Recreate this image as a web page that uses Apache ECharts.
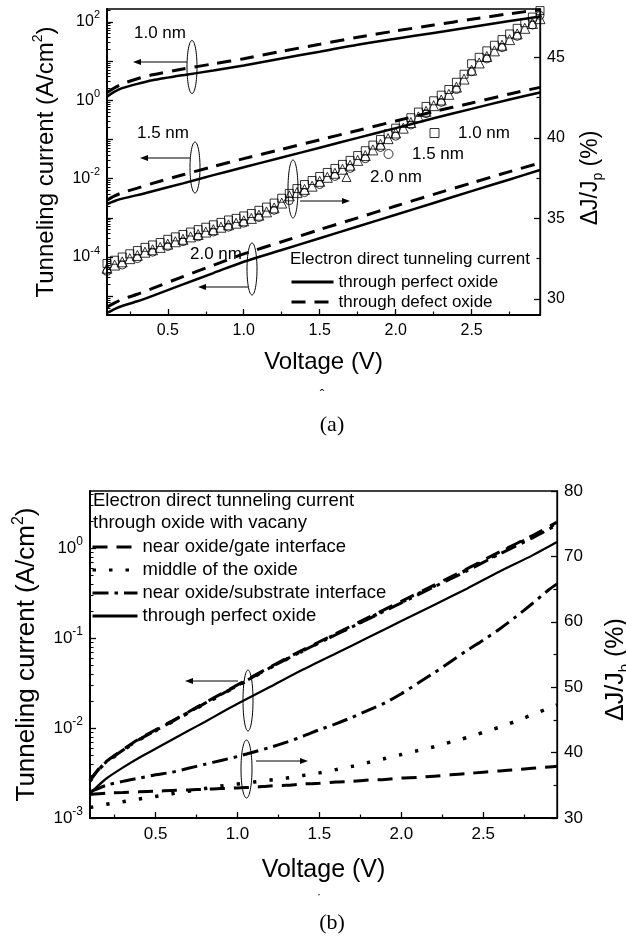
<!DOCTYPE html>
<html><head><meta charset="utf-8">
<script src="https://cdn.jsdelivr.net/npm/echarts@6/dist/echarts.min.js"></script>
<style>html,body{margin:0;padding:0;background:#fff}#c{width:626px;height:940px}</style>
</head><body><div id="c"></div>
<script>
// ---------- Panel (a) data ----------
const voltsA = [0.10,0.15,0.20,0.30,0.40,0.60,0.80,1.00,1.25,1.50,1.75,2.00,2.25,2.50,2.75,2.95];
const jPerfect10 = [1.23,1.66,2.04,2.63,3.24,4.37,5.75,7.76,11.7,17.4,26.3,37.2,52.5,74.1,105,138];
const jDefect10  = [1.58,2.09,2.63,3.55,4.47,6.31,8.51,11.5,17.8,26.9,40.7,58.9,83.2,117,162,204];
const jPerfect15 = [2.24e-3,2.69e-3,3.09e-3,3.80e-3,4.79e-3,7.59e-3,1.23e-2,1.95e-2,3.47e-2,6.17e-2,0.110,0.195,0.347,0.603,1.05,1.58];
const jDefect15  = [2.82e-3,3.63e-3,4.37e-3,5.75e-3,7.59e-3,1.26e-2,2.04e-2,3.24e-2,5.62e-2,9.77e-2,0.170,0.295,0.513,0.851,1.45,2.14];
const jPerfect20 = [3.72e-6,4.68e-6,5.62e-6,7.41e-6,1.02e-5,2.00e-5,3.89e-5,7.59e-5,1.51e-4,3.02e-4,6.03e-4,1.20e-3,2.40e-3,4.79e-3,9.55e-3,1.66e-2];
const jDefect20  = [5.25e-6,6.76e-6,8.32e-6,1.12e-5,1.58e-5,3.16e-5,6.17e-5,1.20e-4,2.45e-4,5.01e-4,1.00e-3,2.00e-3,3.98e-3,7.76e-3,1.51e-2,2.51e-2];

const voltsFine = [0.10,0.15,0.20,0.25,0.30,0.35,0.40,0.45,0.50,0.55,0.60,0.65,0.70,0.75,0.80,0.85,0.90,0.95,1.00,1.05,1.10,1.15,1.20,1.25,1.30,1.35,1.40,1.45,1.50,1.55,1.60,1.65,1.70,1.75,1.80,1.85,1.90,1.95,2.00,2.05,2.10,2.15,2.20,2.25,2.30,2.35,2.40,2.45,2.50,2.55,2.60,2.65,2.70,2.75,2.80,2.85,2.90,2.95];
const dj10nm = [32.2,32.4,32.6,32.8,33.0,33.2,33.35,33.5,33.7,33.85,34.0,34.15,34.3,34.45,34.6,34.75,34.9,35.0,35.15,35.3,35.5,35.7,35.95,36.25,36.55,36.85,37.1,37.35,37.6,37.85,38.1,38.35,38.6,38.9,39.2,39.55,39.9,40.25,40.6,40.9,41.25,41.6,41.95,42.3,42.65,43.0,43.45,43.95,44.6,45.0,45.4,45.75,46.1,46.45,46.8,47.15,47.5,47.9];
const dj20nm = [31.9,32.1,32.3,32.5,32.7,32.9,33.05,33.2,33.4,33.55,33.7,33.85,34.0,34.15,34.3,34.45,34.6,34.7,34.85,35.0,35.2,35.4,35.65,35.95,36.4,36.6,36.8,37.0,37.3,37.55,37.8,38.05,38.3,38.6,38.9,39.25,39.6,39.95,40.3,40.6,40.95,41.3,41.65,42.0,42.35,42.7,43.15,43.65,44.2,44.65,45.05,45.4,45.75,46.1,46.45,46.8,47.1,47.4];
const voltsCoarse = [0.1,0.2,0.3,0.4,0.5,0.6,0.7,0.8,0.9,1.0,1.1,1.2,1.3,1.4,1.5,1.6,1.7,1.8,1.9,2.0,2.1,2.2,2.3,2.4,2.5,2.6,2.7,2.8,2.9,2.95];
const dj15nm = [31.7,32.1,32.5,32.9,33.25,33.55,33.85,34.15,34.45,34.7,35.05,35.5,36.1,36.6,37.1,37.6,38.1,38.7,39.4,40.1,40.8,41.5,42.2,43.0,44.1,44.9,45.6,46.3,47.0,47.6];

// ---------- Panel (b) data ----------
const voltsB = [0.10,0.15,0.20,0.30,0.40,0.50,0.60,0.70,0.80,0.90,1.00,1.20,1.40,1.60,1.80,2.00,2.20,2.40,2.60,2.80,2.95];
const jPerfectB   = [1.86e-3,2.29e-3,2.75e-3,3.63e-3,4.68e-3,5.89e-3,7.41e-3,9.33e-3,1.17e-2,1.48e-2,1.86e-2,2.88e-2,4.47e-2,6.76e-2,0.102,0.155,0.234,0.355,0.550,0.832,1.17];
const jGateB      = [2.63e-3,3.47e-3,4.27e-3,5.75e-3,7.59e-3,9.55e-3,1.20e-2,1.51e-2,1.91e-2,2.40e-2,3.02e-2,4.79e-2,7.41e-2,0.112,0.170,0.257,0.389,0.589,0.912,1.38,1.95];
const jMiddleB    = [2.57e-3,3.39e-3,4.17e-3,5.62e-3,7.41e-3,9.33e-3,1.17e-2,1.48e-2,1.86e-2,2.34e-2,2.95e-2,4.68e-2,7.24e-2,0.110,0.166,0.251,0.380,0.575,0.891,1.35,1.91];
const jSubstrateB = [2.60e-3,3.42e-3,4.20e-3,5.66e-3,7.45e-3,9.40e-3,1.18e-2,1.49e-2,1.88e-2,2.36e-2,2.97e-2,4.70e-2,7.25e-2,0.109,0.164,0.247,0.372,0.560,0.862,1.30,1.82];
const djGateB      = [33.6,33.8,33.9,34.0,34.1,34.2,34.3,34.4,34.5,34.6,34.7,34.9,35.0,35.2,35.3,35.5,35.6,35.8,35.9,36.1,36.2,36.4,36.6,36.8,37.0,37.2,37.4,37.6,37.8,37.9];
const djMiddleB    = [31.6,32.1,32.5,32.9,33.3,33.7,34.1,34.5,34.9,35.2,35.5,35.8,36.1,36.5,36.9,37.4,37.9,38.5,39.1,39.7,40.3,40.9,41.6,42.3,43.1,43.9,44.8,45.8,46.8,47.3];
const djSubstrateB = [34.0,35.0,35.6,36.1,36.6,37.0,37.6,38.2,38.8,39.4,40.1,40.8,41.6,42.5,43.5,44.4,45.4,46.5,47.6,49.0,50.6,52.2,53.9,55.6,57.2,58.9,60.8,62.8,64.9,65.8];

// ---------- tick values ----------
const xMajor = [0.5,1.0,1.5,2.0,2.5];
const xMinor = [0.25,0.75,1.25,1.75,2.25,2.75];
const yLogLabelsA = [-4,-2,0,2];
const yLogMajorA = [-5,-4,-3,-2,-1,0,1,2];
const yRightLabelsA = [30,35,40,45];
const yRightMinorA = [32.5,37.5,42.5,47.5];
const yLogLabelsB = [-3,-2,-1,0];
const yRightLabelsB = [30,40,50,60,70,80];
const yRightMinorB = [35,45,55,65,75];

const FF = "'Liberation Sans', Arial, sans-serif";
const SERIF = "'Liberation Serif', 'Times New Roman', serif";
const BLACK = '#000';

function minorLog(lo, hi) {
  const out = [];
  for (let n = Math.floor(lo); n <= Math.ceil(hi); n++)
    for (let k = 2; k <= 9; k++) { const t = n + Math.log10(k); if (t > lo && t < hi) out.push(t); }
  return out;
}
const toLog = (xs, js) => xs.map((v, i) => [v, Math.log10(js[i])]);
const toPts = (xs, ys) => xs.map((v, i) => [v, ys[i]]);

function xAxes(grid, fs, nameFs, gap) {
  return [{
    gridIndex: grid, type: 'value', min: 0.1, max: 2.95, position: 'bottom',
    axisLine: { onZero: false, lineStyle: { color: BLACK, width: 2 } },
    axisTick: { inside: true, length: 6, customValues: xMajor, lineStyle: { color: BLACK, width: 1.3 } },
    axisLabel: { customValues: xMajor, formatter: v => v.toFixed(1), fontSize: fs, color: BLACK, fontFamily: FF, margin: 8 },
    splitLine: { show: false },
    name: 'Voltage (V)', nameLocation: 'middle', nameGap: gap,
    nameTextStyle: { fontSize: nameFs, color: BLACK, fontFamily: FF }
  }, {
    gridIndex: grid, type: 'value', min: 0.1, max: 2.95, position: 'bottom',
    axisLine: { show: false, onZero: false },
    axisTick: { inside: true, length: 3.5, customValues: xMinor, lineStyle: { color: BLACK, width: 1.2 } },
    axisLabel: { show: false }, splitLine: { show: false }
  }];
}

function logAxes(grid, lo, hi, labels, majors, fs, sfs, nameFs, gap) {
  return [{
    gridIndex: grid, type: 'value', min: lo, max: hi, position: 'left',
    axisLine: { onZero: false, lineStyle: { color: BLACK, width: 2 } },
    axisTick: { inside: true, length: 6, customValues: majors, lineStyle: { color: BLACK, width: 1.3 } },
    axisLabel: {
      customValues: labels, margin: 7, color: BLACK,
      formatter: v => '{b|10}{s|' + Math.round(v) + '}',
      rich: {
        b: { fontSize: fs, fontFamily: FF, color: BLACK, lineHeight: fs + 8 },
        s: { fontSize: sfs, fontFamily: FF, color: BLACK, lineHeight: sfs + 1, verticalAlign: 'top' }
      }
    },
    splitLine: { show: false },
    name: 'Tunneling current (A/cm{s|2})', nameLocation: 'middle', nameGap: gap,
    nameTextStyle: { fontSize: nameFs, color: BLACK, fontFamily: FF, lineHeight: nameFs + 6,
      rich: { s: { fontSize: Math.round(nameFs * 0.6), fontFamily: FF, color: BLACK, lineHeight: Math.round(nameFs * 0.6), verticalAlign: 'top' } } }
  }, {
    gridIndex: grid, type: 'value', min: lo, max: hi, position: 'left',
    axisLine: { show: false, onZero: false },
    axisTick: { inside: true, length: 3.5, customValues: minorLog(lo, hi), lineStyle: { color: BLACK, width: 1 } },
    axisLabel: { show: false }, splitLine: { show: false }
  }];
}

function rightAxes(grid, lo, hi, labels, minors, fs, nameFs, gap, sub, shift) {
  return [{
    gridIndex: grid, type: 'value', min: lo, max: hi, position: 'right',
    axisLine: { onZero: false, lineStyle: { color: BLACK, width: 1.3 } },
    axisTick: { inside: true, length: 6, customValues: labels, lineStyle: { color: BLACK, width: 1.3 } },
    axisLabel: { customValues: labels, fontSize: fs, color: BLACK, fontFamily: FF, margin: 7 },
    splitLine: { show: false },
    name: '\u0394J/J{sub|' + sub + '} (%)', nameLocation: 'middle', nameGap: gap,
    nameTextStyle: { fontSize: nameFs, color: BLACK, fontFamily: FF, lineHeight: nameFs + 6, padding: [0, shift, 0, 0],
      rich: { sub: { fontSize: Math.round(nameFs * 0.6), fontFamily: FF, color: BLACK, lineHeight: Math.round(nameFs * 0.6), verticalAlign: 'bottom' } } }
  }, {
    gridIndex: grid, type: 'value', min: lo, max: hi, position: 'right',
    axisLine: { show: false, onZero: false },
    axisTick: { inside: true, length: 3.5, customValues: minors, lineStyle: { color: BLACK, width: 1.2 } },
    axisLabel: { show: false }, splitLine: { show: false }
  }];
}

function line(name, x, y, data, width, type) {
  return { type: 'line', name, xAxisIndex: x, yAxisIndex: y, data, symbol: 'none', smooth: 0.25,
    lineStyle: { color: BLACK, width, type: type || 'solid', cap: 'butt' }, itemStyle: { color: BLACK }, z: 3, silent: true };
}
function markers(name, symbol, size, xs, ys) {
  return { type: 'scatter', name, xAxisIndex: 0, yAxisIndex: 2, data: toPts(xs, ys), symbol, symbolSize: size,
    itemStyle: { color: 'rgba(0,0,0,0)', borderColor: BLACK, borderWidth: 1 }, z: 4, silent: true };
}

const DASH_A = [14, 9];
const DASH_B = [15, 9];
const DOT_B = [3.5, 13];
const DASHDOT_B = [16, 6, 3.5, 6];

const series = [
  line('through perfect oxide', 0, 0, toLog(voltsA, jPerfect10), 2.5),
  line('through defect oxide', 0, 0, toLog(voltsA, jDefect10), 3, DASH_A),
  line('through perfect oxide', 0, 0, toLog(voltsA, jPerfect15), 2.5),
  line('through defect oxide', 0, 0, toLog(voltsA, jDefect15), 3, DASH_A),
  line('through perfect oxide', 0, 0, toLog(voltsA, jPerfect20), 2.5),
  line('through defect oxide', 0, 0, toLog(voltsA, jDefect20), 3, DASH_A),
  markers('1.0 nm', 'rect', 8, voltsFine, dj10nm),
  markers('1.5 nm', 'circle', 8, voltsCoarse, dj15nm),
  markers('2.0 nm', 'triangle', 10, voltsFine, dj20nm),
  // panel (b)
  line('near oxide/gate interface', 2, 4, toLog(voltsB, jGateB), 3, DASH_B),
  line('middle of the oxide', 2, 4, toLog(voltsB, jMiddleB), 3.5, DOT_B),
  line('near oxide/substrate interface', 2, 4, toLog(voltsB, jSubstrateB), 3, DASHDOT_B),
  line('through perfect oxide', 2, 4, toLog(voltsB, jPerfectB), 2.2),
  line('near oxide/gate interface', 2, 6, toPts(voltsCoarse, djGateB), 3, DASH_B),
  line('middle of the oxide', 2, 6, toPts(voltsCoarse, djMiddleB), 3.5, DOT_B),
  line('near oxide/substrate interface', 2, 6, toPts(voltsCoarse, djSubstrateB), 3, DASHDOT_B)
];

function arrow(x1, y1, x2, y2) {
  const L = Math.hypot(x2 - x1, y2 - y1), dx = (x2 - x1) / L, dy = (y2 - y1) / L;
  const hl = 8, hw = 3;
  return [
    { type: 'line', shape: { x1, y1, x2: x2 - dx * 6, y2: y2 - dy * 6 }, style: { stroke: BLACK, lineWidth: 1.1 }, silent: true },
    { type: 'polygon', shape: { points: [[x2, y2], [x2 - dx * hl - dy * hw, y2 - dy * hl + dx * hw], [x2 - dx * hl + dy * hw, y2 - dy * hl - dx * hw]] }, style: { fill: BLACK }, silent: true }
  ];
}
function ell(cx, cy, rx, ry) {
  return { type: 'ellipse', shape: { cx, cy, rx, ry }, style: { fill: 'none', stroke: BLACK, lineWidth: 1 }, silent: true };
}
function txt(text, x, y, size, align, family) {
  return { type: 'text', x, y, silent: true,
    style: { text, fontSize: size, fontFamily: family || FF, fill: BLACK, align: align || 'center', verticalAlign: 'middle' } };
}

const graphic = [
  txt('1.0 nm', 160, 33, 17), txt('1.5 nm', 163, 133, 17), txt('2.0 nm', 216, 254, 17),
  ell(192, 67, 5, 26.5), ell(195, 167.5, 5, 25.5), ell(293, 189, 5, 29), ell(252, 269, 5, 26),
  ...arrow(187, 62, 133, 62), ...arrow(190, 158, 140, 158), ...arrow(300, 201, 350, 201), ...arrow(248, 287, 198, 287),
  txt('Electron direct tunneling current', 290, 259, 17, 'left'),
  txt('ˆ', 322, 396, 14),
  txt('(a)', 332, 425, 22, 'center', SERIF),
  // panel (b)
  txt('Electron direct tunneling current', 93, 501, 18.5, 'left'),
  txt('through oxide with vacany', 93, 523, 18.5, 'left'),
  ell(248, 700.5, 5, 30.5), ell(246.5, 769, 5.5, 29),
  ...arrow(238, 681, 185, 681), ...arrow(256, 761, 308, 761),
  txt('·', 319, 895, 12),
  txt('(b)', 332, 923, 22, 'center', SERIF)
];

function markerLegend(name, iconCx, cy) {
  return { data: [name], left: iconCx - 4.5, top: cy - 8.5, orient: 'vertical', padding: 0,
    itemWidth: 9, itemHeight: 9, selectedMode: false, symbolKeepAspect: true,
    itemStyle: { borderWidth: 1 },
    textStyle: { fontSize: 17, fontFamily: FF, color: BLACK, lineHeight: 17, padding: [0, 0, 0, 14] } };
}

const option = {
  animation: false,
  backgroundColor: '#fff',
  textStyle: { fontFamily: FF, color: BLACK },
  grid: [
    { left: 107, top: 9, width: 433, height: 306, show: true, borderColor: BLACK, borderWidth: 1.3, backgroundColor: 'transparent', containLabel: false, outerBoundsMode: 'none' },
    { left: 90, top: 491, width: 467, height: 327, show: true, borderColor: BLACK, borderWidth: 1.3, backgroundColor: 'transparent', containLabel: false, outerBoundsMode: 'none' }
  ],
  xAxis: [...xAxes(0, 16, 24, 35), ...xAxes(1, 17, 25, 40)],
  yAxis: [
    ...logAxes(0, -5.48, 2.33, yLogLabelsA, yLogMajorA, 16, 11, 24, 43),
    ...rightAxes(0, 29, 48, yRightLabelsA, yRightMinorA, 16, 23, 35, 'p', 32),
    ...logAxes(1, -3, 0.636, yLogLabelsB, yLogLabelsB, 17, 12, 26, 44),
    ...rightAxes(1, 30, 80, yRightLabelsB, yRightMinorB, 17, 25, 44, 'b', 30)
  ],
  legend: [
    { data: ['through perfect oxide', 'through defect oxide'], left: 290, top: 273.5, orient: 'vertical', padding: 0,
      itemWidth: 42, itemHeight: 17, itemGap: 3, selectedMode: false, lineStyle: { width: 3 }, itemStyle: { opacity: 0 },
      textStyle: { fontSize: 17, fontFamily: FF, color: BLACK, lineHeight: 17 } },
    markerLegend('1.0 nm', 434, 133),
    markerLegend('1.5 nm', 388, 154),
    markerLegend('2.0 nm', 346, 177),
    { data: ['near oxide/gate interface', 'middle of the oxide', 'near oxide/substrate interface', 'through perfect oxide'],
      left: 91, top: 537.5, orient: 'vertical', padding: 0, itemWidth: 45, itemHeight: 19, itemGap: 4, selectedMode: false,
      lineStyle: { width: 3 }, itemStyle: { opacity: 0 },
      textStyle: { fontSize: 18.5, fontFamily: FF, color: BLACK, lineHeight: 19 } }
  ],
  series,
  graphic
};

const chart = echarts.init(document.getElementById('c'), null, { renderer: 'canvas' });
chart.setOption(option);
</script></body></html>
